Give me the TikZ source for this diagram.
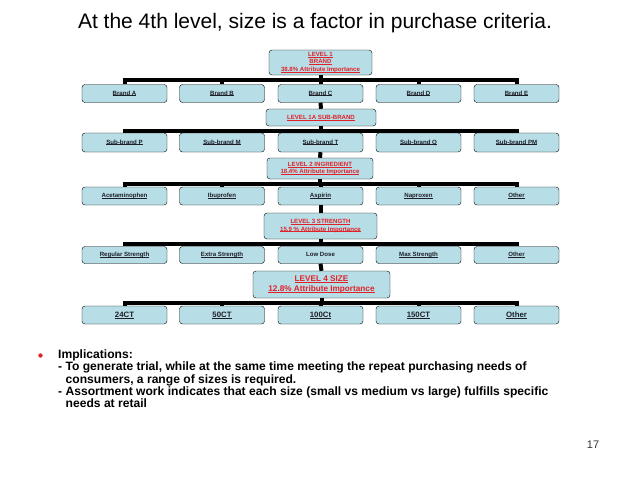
\documentclass[tikz,border=0pt]{standalone}
\usepackage{fontspec}
\setmainfont{Liberation Sans}
\usepackage{tikz}
\definecolor{boxblue}{RGB}{183,222,230}
\definecolor{lvlred}{RGB}{226,32,40}
\definecolor{itemtext}{RGB}{30,30,40}
\newsavebox\ulbox
\newcommand\ulin[1]{\sbox\ulbox{#1}\rlap{\rule[-0.13em]{\wd\ulbox}{0.07em}}\usebox\ulbox}

\begin{document}
\begin{tikzpicture}[x=1pt, y=-1pt,
    level/.style={draw, rounded corners=3pt, fill=boxblue, text=lvlred, align=center, inner sep=0pt,
      font=\fontsize{6.1}{7.2}\selectfont\bfseries},
    item/.style={draw, rounded corners=3pt, fill=boxblue, text=itemtext, minimum width=85pt, minimum height=18pt,
      inner sep=0pt, text height=4.6pt, text depth=1.4pt, font=\fontsize{6.1}{7}\selectfont\bfseries},
    bigitem/.style={item, text height=5.8pt, text depth=1.6pt, font=\fontsize{7.8}{9}\selectfont\bfseries},
    link/.style={line width=4pt}
  ]
    \useasboundingbox (0,0) rectangle (638,479);
    \node[font=\fontsize{21}{24}\selectfont] (title) at (315,23) {At the 4th level, size is a factor in purchase criteria.};

    \node[level, minimum width=103pt, minimum height=25pt] (l1) at (320.5,62.5)
      {\ulin{LEVEL 1}\\\ulin{BRAND}\\\ulin{38.8\% Attribute Importance}};
    \node[item] (bA) at (124.5,93.5) {\ulin{Brand A}};
    \node[item] (bB) at (222,93.5) {\ulin{Brand B}};
    \node[item] (bC) at (320.5,93.5) {\ulin{Brand C}};
    \node[item] (bD) at (418.5,93.5) {\ulin{Brand D}};
    \node[item] (bE) at (516.5,93.5) {\ulin{Brand E}};

    \node[level, minimum width=110pt, minimum height=17pt] (l1a) at (321,117.5) {\ulin{LEVEL 1A SUB-BRAND}};
    \node[item, minimum height=19pt] (sP) at (124.5,142.5) {\ulin{Sub-brand P}};
    \node[item, minimum height=19pt] (sM) at (222,142.5) {\ulin{Sub-brand M}};
    \node[item, minimum height=19pt] (sT) at (320.5,142.5) {\ulin{Sub-brand T}};
    \node[item, minimum height=19pt] (sQ) at (418.5,142.5) {\ulin{Sub-brand Q}};
    \node[item, minimum height=19pt] (sPM) at (516.5,142.5) {\ulin{Sub-brand PM}};

    \node[level, minimum width=106pt, minimum height=21pt] (l2) at (320,168.5)
      {\ulin{LEVEL 2 INGREDIENT}\\\ulin{18.4\% Attribute Importance}};
    \node[item] (iAc) at (124.5,196) {\ulin{Acetaminophen}};
    \node[item] (iIb) at (222,196) {\ulin{Ibuprofen}};
    \node[item] (iAs) at (320.5,196) {\ulin{Aspirin}};
    \node[item] (iNa) at (418.5,196) {\ulin{Naproxen}};
    \node[item] (iOt) at (516.5,196) {\ulin{Other}};

    \node[level, minimum width=113pt, minimum height=26pt] (l3) at (320.5,226)
      {\ulin{LEVEL 3 STRENGTH}\\\ulin{15.9 \% Attribute Importance}};
    \node[item, minimum height=17pt] (stR) at (124.5,255) {\ulin{Regular Strength}};
    \node[item, minimum height=17pt] (stE) at (222,255) {\ulin{Extra Strength}};
    \node[item, minimum height=17pt] (stL) at (320.5,255) {Low Dose};
    \node[item, minimum height=17pt] (stM) at (418.5,255) {\ulin{Max Strength}};
    \node[item, minimum height=17pt] (stO) at (516.5,255) {\ulin{Other}};

    \node[level, minimum width=137pt, minimum height=27pt, font=\fontsize{8.2}{9.6}\selectfont\bfseries] (l4) at (321.5,284.5)
      {\ulin{LEVEL 4 SIZE}\\\ulin{12.8\% Attribute Importance}};
    \node[bigitem] (z24) at (124.5,315) {\ulin{24CT}};
    \node[bigitem] (z50) at (222,315) {\ulin{50CT}};
    \node[bigitem] (z100) at (320.5,315) {\ulin{100Ct}};
    \node[bigitem] (z150) at (418.5,315) {\ulin{150CT}};
    \node[bigitem] (zOt) at (516.5,315) {\ulin{Other}};

    \draw[link] (l1.south) -- ++(0,4.5) -| (bA.north);
    \draw[link] (l1.south) -- ++(0,4.5) -| (bB.north);
    \draw[link] (l1.south) -- (bC.north);
    \draw[link] (l1.south) -- ++(0,4.5) -| (bD.north);
    \draw[link] (l1.south) -- ++(0,4.5) -| (bE.north);
    \draw[link] (bC.south) -- (l1a.north);

    \draw[link] (l1a.south) -- ++(0,4.5) -| (sP.north);
    \draw[link] (l1a.south) -- ++(0,4.5) -| (sM.north);
    \draw[link] (l1a.south) -- ++(0,4.5) -| (sT.north);
    \draw[link] (l1a.south) -- ++(0,4.5) -| (sQ.north);
    \draw[link] (l1a.south) -- ++(0,4.5) -| (sPM.north);
    \draw[link] (sT.south) -- (l2.north);

    \draw[link] (l2.south) -- ++(0,4.5) -| (iAc.north);
    \draw[link] (l2.south) -- ++(0,4.5) -| (iIb.north);
    \draw[link] (l2.south) -- ++(0,4.5) -| (iAs.north);
    \draw[link] (l2.south) -- ++(0,4.5) -| (iNa.north);
    \draw[link] (l2.south) -- ++(0,4.5) -| (iOt.north);
    \draw[link] (iAs.south) -- (l3.north);

    \draw[link] (l3.south) -- ++(0,4.5) -| (stR.north);
    \draw[link] (l3.south) -- ++(0,4.5) -| (stE.north);
    \draw[link] (l3.south) -- ++(0,4.5) -| (stL.north);
    \draw[link] (l3.south) -- ++(0,4.5) -| (stM.north);
    \draw[link] (l3.south) -- ++(0,4.5) -| (stO.north);
    \draw[link] (stL.south) -- (l4.north);

    \draw[link] (l4.south) -- ++(0,4.5) -| (z24.north);
    \draw[link] (l4.south) -- ++(0,4.5) -| (z50.north);
    \draw[link] (l4.south) -- ++(0,4.5) -| (z100.north);
    \draw[link] (l4.south) -- ++(0,4.5) -| (z150.north);
    \draw[link] (l4.south) -- ++(0,4.5) -| (zOt.north);

    \fill[lvlred] (40.5,355.5) circle (2.2pt);
    \node[anchor=north west, align=left, inner sep=0pt, font=\fontsize{12.1}{12.3}\selectfont\bfseries] (notes) at (58,349.5)
      {Implications:\\%
- To generate trial, while at the same time meeting the repeat purchasing needs of\\%
\hspace*{7.5pt}consumers, a range of sizes is required.\\%
- Assortment work indicates that each size (small vs medium vs large) fulfills specific\\%
\hspace*{7.5pt}needs at retail};
    \node[font=\fontsize{11}{13}\selectfont, text=black!80] (page) at (593,445) {17};
  \end{tikzpicture}
\end{document}
